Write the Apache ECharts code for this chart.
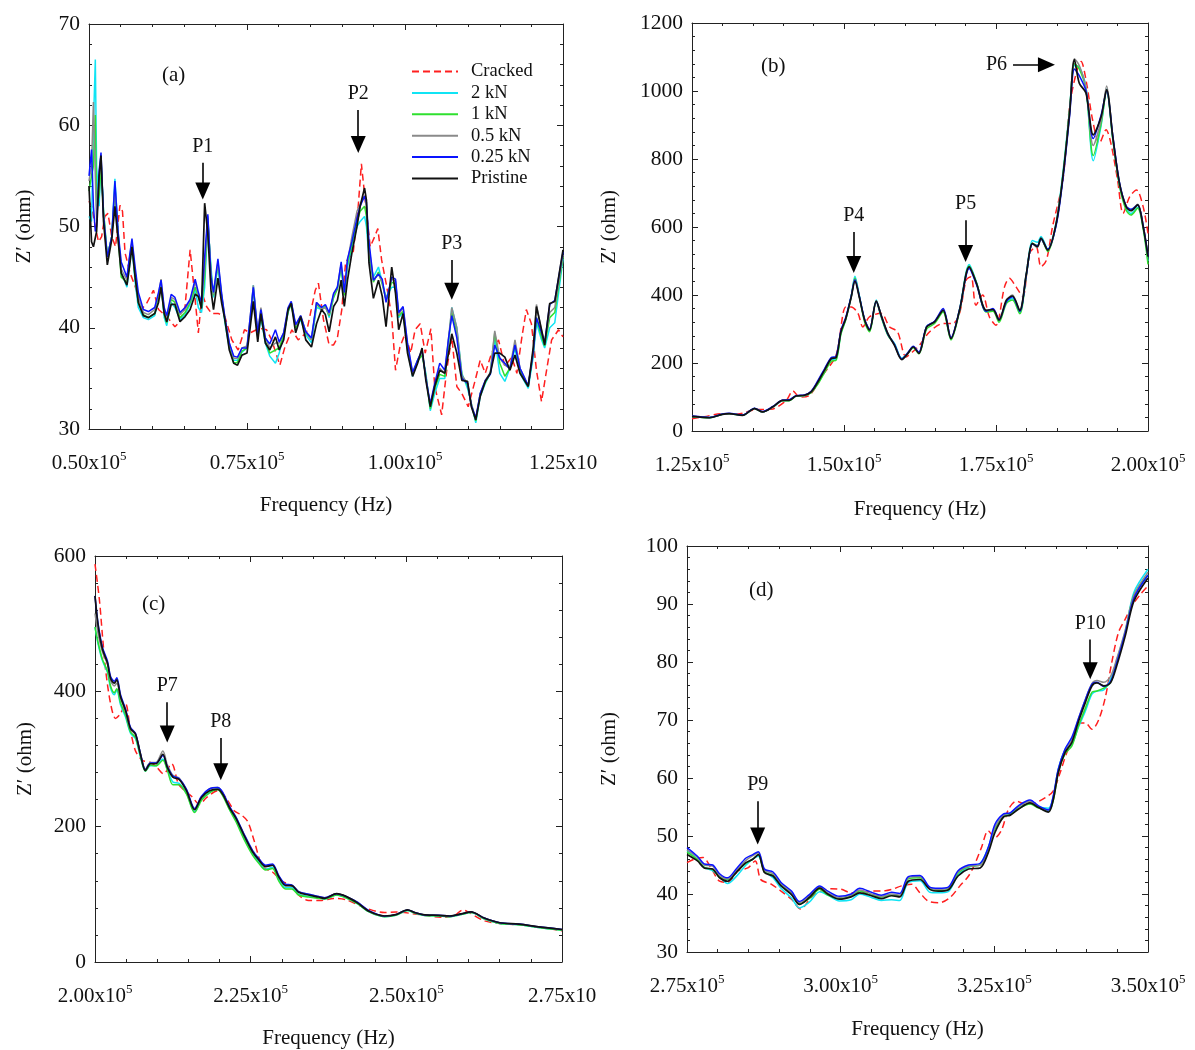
<!DOCTYPE html>
<html>
<head>
<meta charset="utf-8">
<script src="https://cdn.jsdelivr.net/npm/echarts@6/dist/echarts.min.js"></script>
<style>
html,body{margin:0;padding:0;background:#fff;}
#chart{width:1195px;height:1050px;}
</style>
</head>
<body>
<div id="chart"></div>
<script>
// ---------------- DATA (frequency in kHz, Z' in ohm) ----------------
const seriesNames = ['Cracked', '2 kN', '1 kN', '0.5 kN', '0.25 kN', 'Pristine'];

// Panel (a)
const fA = [
  50.0, 50.4, 50.7, 51.0, 51.2, 51.6, 51.9, 52.3, 52.9, 53.6,
  54.1, 54.6, 55.1, 56.0, 56.4, 56.8, 57.3, 57.8, 58.6, 59.4,
  60.4, 61.0, 61.4, 61.9, 62.3, 63.0, 63.6, 64.4, 65.2, 66.0,
  66.8, 67.3, 67.8, 68.3, 68.8, 69.3, 69.7, 70.4, 71.0, 71.5,
  72.2, 72.9, 73.5, 74.2, 75.0, 75.5, 76.0, 76.7, 77.2, 77.9,
  78.6, 79.5, 80.1, 80.8, 81.5, 82.0, 82.7, 83.5, 84.3, 85.2,
  86.0, 86.8, 87.4, 88.0, 88.7, 89.3, 89.9, 90.4, 90.9, 91.6,
  92.4, 92.9, 93.6, 93.9, 94.3, 95.0, 95.8, 96.4, 97.0, 97.9,
  98.5, 99.0, 99.7, 100.4, 101.2, 102.0, 102.7, 103.3, 104.0, 104.7,
  105.5, 106.3, 106.9, 107.4, 108.2, 109.0, 109.9, 110.5, 111.2, 111.9,
  112.7, 113.5, 114.2, 115.0, 115.8, 116.6, 117.4, 118.2, 119.5, 120.3,
  120.8, 121.5, 122.1, 122.9, 123.7, 125.0];
const pristineA = [
  54.0, 48.5, 48.0, 48.0, 49.5, 55.0, 57.0, 50.5, 46.2, 48.7,
  52.0, 48.7, 45.4, 44.2, 46.0, 48.0, 45.0, 42.5, 41.2, 41.0,
  41.4, 42.5, 44.0, 41.4, 40.6, 42.3, 42.3, 40.6, 41.1, 41.8,
  43.3, 43.1, 41.9, 52.3, 49.3, 43.7, 41.8, 44.9, 42.4, 40.8,
  37.8, 36.5, 36.3, 37.3, 37.5, 40.0, 42.6, 38.6, 41.4, 38.5,
  37.8, 39.1, 37.8, 38.8, 41.8, 42.4, 39.5, 41.1, 38.8, 38.1,
  40.4, 41.8, 41.3, 39.6, 42.1, 42.7, 44.7, 42.1, 44.7, 47.4,
  50.0, 52.0, 53.8, 52.6, 46.4, 42.9, 44.7, 43.1, 40.1, 46.0,
  43.4, 39.8, 41.4, 37.5, 35.2, 36.5, 38.0, 34.8, 32.2, 34.2,
  35.8, 35.5, 37.5, 39.4, 37.5, 34.8, 34.7, 32.2, 30.9, 33.2,
  34.7, 35.5, 37.5, 37.5, 37.1, 35.8, 37.3, 35.5, 34.2, 38.1,
  42.1, 40.1, 38.3, 42.4, 42.6, 47.7];
const kN025A = [
  55.0, 57.6, 52.0, 49.5, 50.0, 55.5, 57.3, 51.0, 47.0, 49.0,
  54.5, 49.5, 46.5, 45.0, 47.0, 48.8, 46.0, 43.5, 41.8, 41.6,
  42.0, 43.5, 44.7, 42.0, 41.2, 43.3, 43.0, 41.5, 42.0, 42.8,
  44.8, 43.5, 42.5, 47.0, 51.2, 45.0, 43.5, 46.8, 43.3, 41.0,
  38.5, 37.2, 37.1, 38.0, 38.0, 41.0, 44.0, 39.5, 41.8, 39.0,
  38.4, 39.8, 38.6, 39.5, 42.0, 42.6, 40.3, 41.2, 39.6, 39.0,
  42.5, 42.0, 42.3, 41.5, 43.4, 44.0, 46.5, 43.5, 46.8, 48.5,
  50.8, 52.0, 53.0, 52.4, 48.5, 44.7, 45.3, 44.8, 42.5, 45.0,
  44.8, 41.5, 42.1, 38.5, 35.6, 36.8, 37.8, 35.0, 32.5, 34.5,
  36.5, 35.8, 39.0, 41.2, 39.0, 35.0, 34.5, 32.3, 31.1, 33.5,
  34.8, 35.4, 38.3, 37.0, 36.5, 35.9, 38.3, 36.0, 34.3, 37.6,
  41.0, 39.7, 38.5, 42.3, 42.7, 47.5];
const kN2A = [
  51.0, 50.5, 60.0, 66.5, 56.0, 52.0, 56.5, 51.5, 47.0, 49.0,
  54.7, 49.5, 45.5, 44.0, 46.0, 48.0, 44.5, 42.0, 41.0, 40.8,
  41.2, 42.8, 44.3, 41.0, 40.2, 42.5, 42.0, 40.8, 41.3, 42.3,
  43.8, 42.0, 41.5, 44.0, 50.5, 46.0, 43.0, 46.0, 43.0, 40.5,
  38.0, 36.8, 36.8, 37.6, 38.0, 40.5, 44.2, 39.0, 41.0, 38.5,
  37.2, 36.5, 37.5, 39.3, 41.5, 42.5, 40.0, 40.8, 39.3, 38.5,
  42.0, 41.8, 42.2, 41.0, 43.0, 44.0, 45.8, 43.5, 46.0, 48.0,
  50.0, 50.5, 51.0, 50.0, 47.0, 45.0, 46.0, 44.5, 43.0, 44.0,
  44.0, 41.0, 41.5, 37.8, 35.2, 36.8, 37.5, 35.5, 31.8, 33.5,
  35.0, 35.0, 38.5, 42.0, 40.0, 35.5, 34.0, 32.5, 30.6, 33.2,
  34.5, 35.5, 39.0, 35.5, 34.7, 36.0, 38.0, 35.5, 34.0, 37.2,
  40.5, 39.0, 38.0, 40.0, 40.5, 46.8];
const kN1A = [
  53.5, 55.0, 56.0, 61.0, 52.0, 53.0, 56.0, 51.5, 47.0, 49.0,
  53.5, 49.0, 45.0, 44.5, 46.5, 48.3, 45.0, 42.5, 41.3, 41.0,
  41.4, 43.0, 44.2, 41.3, 40.5, 42.8, 42.5, 41.0, 41.5, 42.5,
  44.0, 43.0, 42.0, 45.0, 50.8, 45.5, 43.2, 46.3, 43.0, 40.8,
  38.2, 36.5, 36.6, 37.7, 38.0, 40.6, 43.8, 39.2, 41.3, 38.7,
  37.5, 37.8, 38.0, 39.3, 41.6, 42.3, 40.0, 41.0, 39.5, 38.8,
  42.3, 41.8, 42.1, 41.2, 43.0, 43.8, 46.0, 43.2, 46.3, 48.3,
  50.5, 51.5, 52.0, 51.0, 47.5, 44.5, 45.5, 44.3, 42.8, 44.5,
  44.3, 41.2, 41.6, 38.0, 35.4, 36.7, 37.3, 35.3, 32.0, 34.0,
  35.4, 35.2, 38.8, 41.5, 39.5, 35.3, 34.3, 32.4, 30.8, 33.5,
  34.6, 35.5, 39.5, 36.5, 35.2, 36.0, 38.3, 35.8, 34.2, 37.5,
  41.0, 39.3, 38.2, 41.0, 41.5, 47.0];
const kN05A = [
  54.5, 56.0, 62.3, 55.0, 50.5, 54.5, 56.8, 51.0, 47.0, 49.0,
  54.0, 49.2, 45.8, 44.7, 46.8, 48.5, 45.5, 43.0, 41.5, 41.3,
  41.8, 43.3, 44.8, 41.7, 41.0, 43.0, 42.8, 41.3, 41.8, 42.7,
  44.5, 43.3, 42.3, 46.0, 51.0, 45.3, 43.3, 46.5, 43.2, 41.0,
  38.5, 37.0, 37.0, 38.0, 38.2, 41.0, 44.2, 39.5, 42.0, 39.0,
  38.0, 38.5, 38.5, 39.5, 41.8, 42.5, 40.2, 41.2, 39.6, 38.8,
  42.5, 41.8, 42.0, 41.3, 43.3, 44.0, 46.3, 43.5, 46.5, 49.0,
  51.5, 52.2, 53.0, 52.0, 48.0, 44.7, 45.3, 44.5, 42.7, 44.8,
  44.6, 41.3, 42.0, 38.3, 35.5, 36.8, 37.6, 35.2, 32.3, 34.3,
  36.0, 35.5, 39.0, 42.0, 40.0, 35.3, 34.5, 32.5, 31.0, 33.5,
  34.8, 35.6, 39.7, 37.0, 36.3, 36.0, 38.8, 36.0, 34.3, 37.8,
  42.3, 40.0, 38.5, 41.5, 42.0, 47.2];
const fCrackedA = [
  50.0, 50.4, 51.0, 51.5, 52.0, 52.5, 53.0, 53.6, 54.2, 54.9,
  55.3, 55.7, 56.5, 57.3, 58.3, 59.2, 60.2, 61.0, 62.3, 63.6,
  64.4, 65.2, 66.0, 66.7, 67.3, 67.9, 68.6, 69.4, 70.5, 71.5,
  72.6, 73.6, 74.6, 75.5, 76.5, 77.3, 78.1, 78.9, 80.2, 81.0,
  82.1, 83.1, 84.4, 85.8, 86.3, 87.1, 88.0, 88.7, 89.3, 90.0,
  90.6, 91.8, 92.6, 93.1, 93.8, 94.5, 95.2, 95.7, 96.3, 97.1,
  97.9, 98.5, 99.2, 100.0, 100.9, 101.6, 102.4, 103.2, 104.1, 104.7,
  105.8, 106.6, 107.4, 108.2, 109.0, 110.0, 111.1, 111.9, 112.7, 113.7,
  114.8, 115.8, 116.9, 117.7, 118.5, 119.2, 120.0, 120.8, 121.6, 122.4,
  123.2, 124.3, 125.0];
const crackedA = [
  52.5, 52.0, 50.0, 48.5, 49.0, 51.0, 51.3, 49.0, 48.0, 52.1,
  51.5, 47.4, 45.4, 44.1, 41.8, 42.5, 43.7, 41.8, 41.1, 40.1,
  40.6, 42.1, 47.7, 43.4, 39.5, 43.4, 42.1, 41.4, 41.4, 41.1,
  38.8, 37.8, 39.8, 39.5, 39.8, 39.9, 39.8, 38.8, 36.3, 38.1,
  39.8, 38.8, 39.5, 43.7, 44.4, 40.8, 38.3, 38.3, 39.0, 41.8,
  46.5, 47.4, 52.0, 56.2, 52.0, 48.0, 49.0, 49.8, 46.7, 44.1,
  41.1, 35.8, 38.1, 39.4, 37.5, 39.8, 40.4, 37.5, 39.9, 34.2,
  31.4, 35.8, 39.1, 34.2, 33.5, 32.2, 34.8, 36.8, 35.5, 37.5,
  38.8, 36.2, 37.1, 35.5, 39.1, 41.8, 40.4, 35.8, 32.7, 35.8,
  38.8, 39.8, 39.1];

// Panel (b)
const fB = [
  125.0, 127.9, 130.0, 131.1, 133.3, 135.3, 136.6, 138.3, 139.9, 141.0,
  142.1, 143.5, 144.6, 145.7, 146.8, 147.9, 148.7, 149.5, 150.3, 151.2,
  151.8, 152.5, 153.4, 154.2, 155.3, 156.1, 157.2, 158.3, 159.5, 160.5,
  161.4, 162.3, 163.6, 164.9, 166.3, 167.6, 169.0, 170.6, 171.8, 173.4,
  174.5, 175.5, 176.7, 177.7, 178.9, 180.0, 181.0, 181.8, 182.4, 183.5,
  184.9, 186.0, 187.1, 187.9, 188.7, 189.8, 191.0, 192.3, 193.2, 194.2,
  195.3, 196.4, 197.2, 198.3, 199.2, 200.0];
const pristineB = [
  43, 39, 49, 51, 46, 66, 56, 71, 90, 90,
  103, 105, 115, 144, 179, 213, 216, 292, 331, 395,
  441, 395, 326, 297, 382, 341, 287, 252, 210, 228,
  247, 228, 306, 321, 355, 272, 355, 483, 434, 355,
  357, 326, 385, 397, 355, 464, 552, 542, 567, 532,
  611, 748, 935, 1092, 1023, 994, 871, 925, 1004, 866,
  729, 660, 648, 665, 601, 513];
const kN025B = [
  44, 40, 50, 52, 47, 67, 57, 72, 91, 92,
  104, 106, 117, 148, 183, 216, 220, 296, 335, 398,
  445, 398, 328, 300, 380, 340, 285, 255, 212, 230,
  249, 232, 308, 323, 360, 275, 356, 478, 430, 352,
  360, 328, 380, 395, 352, 460, 550, 545, 565, 535,
  605, 740, 925, 1065, 1045, 1000, 860, 930, 1000, 870,
  732, 662, 652, 665, 605, 515];
const kN2B = [
  43, 40, 49, 51, 46, 66, 56, 71, 89, 90,
  103, 104, 114, 140, 174, 210, 212, 288, 330, 398,
  455, 400, 325, 295, 385, 338, 284, 258, 214, 230,
  248, 229, 308, 320, 353, 270, 358, 490, 437, 352,
  356, 324, 378, 390, 350, 465, 560, 555, 572, 535,
  615, 760, 945, 1075, 1070, 1010, 795, 900, 1005, 860,
  725, 655, 640, 658, 600, 500];
const kN1B = [
  43, 39, 49, 51, 46, 66, 56, 70, 89, 89,
  102, 104, 113, 138, 172, 205, 208, 285, 328, 396,
  450, 398, 320, 292, 380, 336, 282, 255, 212, 228,
  245, 227, 300, 316, 350, 268, 352, 485, 435, 350,
  352, 320, 375, 385, 345, 458, 552, 545, 565, 528,
  608, 752, 940, 1080, 1065, 1005, 810, 905, 1000, 860,
  722, 650, 635, 655, 595, 490];
const kN05B = [
  44, 40, 49, 51, 46, 66, 56, 71, 90, 91,
  103, 105, 116, 145, 180, 214, 218, 293, 332, 396,
  446, 396, 327, 298, 383, 342, 288, 253, 211, 229,
  248, 230, 307, 322, 357, 273, 356, 482, 434, 355,
  358, 327, 383, 400, 356, 463, 550, 540, 565, 532,
  610, 748, 933, 1095, 1075, 1010, 840, 915, 1015, 868,
  730, 662, 650, 667, 605, 515];
const fCrackedB = [
  125, 127, 130, 132.5, 135.5, 138, 140.5, 141.6, 142.7, 144.3,
  146.5, 148.7, 150.3, 151.2, 152.3, 153.1, 154.2, 156.1, 157.5, 158.8,
  160.2, 161.3, 162.4, 164.1, 166.3, 167.9, 169.0, 170.1, 170.9, 171.7,
  172.8, 173.9, 175.0, 176.4, 177.2, 178.3, 179.4, 180.5, 181.6, 182.4,
  183.3, 184.3, 186.0, 187.1, 188.2, 189.0, 189.8, 190.9, 192.0, 193.1,
  193.9, 195.0, 195.9, 197.0, 198.1, 199.2, 200.0];
const crackedB = [
  36, 42, 51, 50, 63, 64, 90, 118, 100, 105,
  164, 223, 365, 365, 346, 306, 336, 346, 306, 292,
  218, 233, 252, 292, 316, 316, 346, 444, 454, 370,
  400, 336, 311, 424, 449, 424, 395, 522, 542, 483,
  503, 601, 738, 955, 1053, 1087, 1033, 914, 846, 886,
  846, 738, 640, 689, 709, 660, 581];

// Panel (c)
const fC = [
  200, 200.5, 201.2, 202.0, 202.5, 203.1, 203.5, 204.1, 204.9, 205.7,
  206.5, 207.3, 208.1, 208.9, 209.8, 210.9, 211.6, 212.5, 213.5, 214.7,
  216.0, 217.1, 218.4, 219.7, 220.5, 221.6, 222.6, 224.0, 225.3, 226.3,
  227.4, 228.5, 229.5, 230.6, 231.6, 232.7, 234.3, 235.9, 236.9, 238.8,
  240.3, 242.2, 244.0, 246.5, 248.3, 250.2, 251.4, 252.7, 255.1, 257.0,
  258.8, 260.4, 262.5, 265.0, 268.1, 271.2, 275.0];
const pristineC = [
  541, 497, 462, 442, 419, 412, 417, 392, 372, 345,
  337, 307, 283, 293, 293, 307, 288, 273, 270, 253,
  225, 243, 253, 255, 248, 228, 213, 186, 163, 151,
  141, 143, 126, 113, 113, 103, 99, 96, 94, 101,
  97, 87, 75, 68, 70, 77, 73, 70, 69, 68,
  71, 74, 65, 58, 56, 52, 48];
const kN025C = [
  541, 500, 465, 445, 422, 415, 420, 395, 374, 347,
  338, 308, 284, 294, 294, 305, 289, 275, 271, 255,
  227, 245, 256, 258, 251, 230, 215, 188, 165, 153,
  143, 145, 128, 115, 114, 104, 100, 97, 95, 101,
  97, 88, 76, 68, 70, 77, 73, 70, 69, 68,
  71, 74, 65, 58, 56, 52, 48];
const kN2C = [
  495, 470, 445, 428, 405, 395, 402, 380, 362, 338,
  330, 303, 282, 290, 290, 300, 285, 266, 264, 249,
  222, 240, 251, 256, 248, 226, 210, 182, 160, 148,
  137, 140, 122, 110, 110, 100, 97, 95, 93, 99,
  95, 86, 74, 67, 69, 76, 72, 69, 68, 67,
  70, 73, 64, 57, 55, 51, 47];
const kN1C = [
  495, 472, 447, 430, 408, 398, 404, 383, 365, 340,
  332, 304, 282, 291, 290, 298, 284, 262, 262, 248,
  221, 239, 250, 255, 246, 225, 208, 180, 158, 146,
  136, 138, 120, 108, 108, 99, 96, 94, 93, 99,
  95, 86, 74, 67, 69, 76, 72, 69, 68, 67,
  70, 73, 64, 57, 55, 51, 47];
const kN05C = [
  515, 485, 458, 440, 416, 408, 412, 390, 370, 344,
  336, 308, 285, 295, 295, 312, 292, 276, 272, 254,
  226, 244, 256, 258, 250, 229, 214, 187, 163, 152,
  142, 143, 127, 114, 113, 104, 100, 97, 95, 101,
  97, 88, 75, 68, 70, 77, 73, 70, 69, 68,
  71, 74, 65, 58, 56, 52, 48];
const fCrackedC = [
  200, 200.7, 201.2, 201.7, 202.5, 203.3, 204.1, 204.9, 205.7, 206.5,
  207.6, 208.9, 209.9, 211.0, 212.3, 213.4, 214.4, 215.5, 216.8, 217.9,
  219.7, 221.0, 222.4, 223.4, 224.5, 225.6, 226.9, 228.5, 230.1, 231.4,
  232.7, 234.3, 236.4, 238.3, 240.3, 243.4, 246.5, 248.3, 251.4, 255.7,
  257.6, 259.1, 260.1, 262.5, 265.0, 268.1, 271.2, 275.0];
const crackedC = [
  588, 536, 482, 432, 382, 360, 367, 382, 342, 312,
  298, 295, 288, 278, 293, 263, 253, 245, 233, 243,
  253, 243, 223, 218, 208, 178, 141, 133, 119, 114,
  99, 91, 91, 94, 92, 80, 73, 74, 71, 66,
  68, 77, 73, 61, 57, 55, 52, 46];

// Panel (d)
const fD = [
  275.0, 276.7, 277.8, 279.2, 280.3, 281.6, 283.0, 284.6, 285.7, 286.6,
  287.6, 289.0, 290.3, 292.0, 293.3, 294.9, 296.6, 297.9, 299.8, 301.7,
  303.1, 305.0, 306.6, 308.3, 309.6, 311.0, 312.9, 314.5, 315.9, 317.5,
  319.1, 320.8, 322.7, 324.0, 325.1, 326.5, 327.6, 328.9, 330.8, 332.2,
  333.8, 334.6, 335.4, 336.5, 337.6, 338.7, 339.8, 340.9, 341.7, 342.8,
  343.9, 344.9, 346.3, 347.7, 350.0];
const pristineD = [
  46.8, 45.7, 44.5, 44.3, 42.8, 42.2, 43.7, 45.4, 46.0, 46.8,
  43.7, 43.1, 41.4, 39.9, 38.2, 39.4, 41.0, 40.0, 39.1, 39.5,
  40.2, 39.7, 39.2, 39.7, 39.5, 42.2, 42.5, 40.8, 40.5, 40.7,
  43.1, 44.3, 44.5, 47.1, 50.6, 53.3, 53.6, 54.6, 55.7, 54.9,
  54.1, 56.3, 60.9, 64.4, 66.1, 69.8, 73.0, 75.9, 76.4, 75.9,
  76.4, 79.3, 84.5, 90.5, 94.5];
const kN025D = [
  48.0, 46.5, 45.2, 45.0, 43.5, 42.8, 44.3, 46.2, 46.8, 47.3,
  44.3, 43.8, 42.0, 40.5, 38.7, 39.9, 41.4, 40.5, 39.6, 40.0,
  41.0, 40.3, 39.8, 40.3, 40.1, 43.0, 43.2, 41.2, 41.0, 41.2,
  44.0, 45.0, 45.3, 48.0, 52.0, 53.8, 54.0, 55.2, 56.2, 55.2,
  54.5, 57.0, 61.5, 65.0, 67.0, 70.3, 73.5, 76.2, 76.5, 75.8,
  76.6, 79.8, 85.0, 91.0, 95.0];
const kN2D = [
  47.5, 46.0, 44.6, 44.0, 43.0, 41.8, 43.0, 45.0, 46.0, 46.5,
  44.0, 42.8, 41.0, 39.3, 37.6, 38.6, 40.4, 39.8, 38.8, 39.0,
  40.0, 39.4, 38.9, 39.0, 38.9, 42.0, 42.3, 40.3, 40.2, 40.4,
  43.3, 44.6, 45.2, 48.0, 51.5, 53.5, 53.9, 54.8, 55.6, 55.0,
  54.8, 56.8, 61.5, 64.8, 65.8, 68.8, 71.5, 74.5, 75.0, 75.2,
  77.0, 80.3, 85.3, 92.0, 96.0];
const kN1D = [
  47.2, 45.9, 44.6, 44.2, 42.9, 42.5, 43.8, 45.3, 46.0, 46.8,
  43.8, 43.2, 41.6, 40.0, 38.3, 39.2, 40.8, 39.8, 39.2, 39.6,
  40.5, 39.8, 39.5, 39.8, 39.6, 42.6, 42.8, 40.9, 40.6, 40.8,
  43.6, 44.7, 45.0, 47.6, 51.2, 53.3, 53.7, 54.7, 55.5, 54.8,
  54.3, 56.2, 61.0, 64.2, 65.5, 69.0, 72.0, 74.8, 75.0, 75.5,
  76.5, 79.8, 85.0, 91.5, 95.0];
const kN05D = [
  47.6, 46.3, 45.0, 44.8, 43.2, 42.6, 44.0, 45.8, 46.6, 47.1,
  44.1, 43.5, 41.8, 40.2, 38.5, 39.7, 41.2, 40.2, 39.4, 39.8,
  40.7, 40.0, 39.6, 40.0, 39.8, 42.8, 43.0, 41.0, 40.8, 41.0,
  43.8, 44.8, 45.0, 47.8, 51.5, 53.6, 54.0, 55.0, 56.0, 55.0,
  54.5, 56.8, 61.3, 64.8, 66.5, 70.2, 73.5, 76.3, 76.8, 76.5,
  77.5, 80.5, 85.5, 91.5, 95.5];
const fCrackedD = [
  275.0, 276.2, 277.6, 278.9, 280.3, 281.6, 283.3, 284.9, 286.1, 287.0,
  288.7, 290.3, 292.0, 293.5, 295.2, 296.8, 298.5, 300.1, 301.7, 303.4,
  305.0, 306.6, 308.3, 309.9, 311.5, 312.9, 314.2, 316.1, 317.8, 319.4,
  320.8, 321.8, 322.9, 324.0, 325.1, 326.2, 327.3, 328.6, 330.0, 331.6,
  333.3, 334.6, 335.7, 336.8, 337.9, 339.0, 339.8, 340.9, 342.0, 343.1,
  344.1, 345.2, 346.3, 347.4, 348.8, 350.0];
const crackedD = [
  45.4, 46.0, 46.3, 44.5, 42.2, 42.0, 44.0, 44.5, 45.7, 42.5,
  41.7, 40.5, 39.1, 37.4, 39.4, 40.5, 40.9, 40.8, 40.2, 40.2,
  40.5, 40.5, 40.8, 41.4, 41.7, 40.2, 38.8, 38.5, 39.4, 41.4,
  43.1, 45.1, 48.0, 50.9, 49.7, 51.1, 54.6, 56.0, 55.5, 55.7,
  56.6, 57.8, 60.9, 64.4, 66.7, 69.5, 69.5, 68.4, 70.1, 74.1,
  79.9, 85.1, 87.4, 89.7, 91.7, 93.1];

// Peak annotations (arrow start / arrow-head centre in data coordinates)
const peakLabels = [
  {panel: 0, name: 'P1', from: [68.0, 56.3], to: [68.0, 53.5]},
  {panel: 0, name: 'P2', from: [92.6, 61.5], to: [92.6, 58.1]},
  {panel: 0, name: 'P3', from: [107.4, 46.7], to: [107.4, 43.6]},
  {panel: 1, name: 'P4', from: [151.6, 585], to: [151.6, 490]},
  {panel: 1, name: 'P5', from: [170.0, 620], to: [170.0, 522]},
  {panel: 1, name: 'P6', from: [177.8, 1077], to: [183.3, 1077]},
  {panel: 2, name: 'P7', from: [211.6, 384], to: [211.6, 337]},
  {panel: 2, name: 'P8', from: [220.2, 331], to: [220.2, 281]},
  {panel: 3, name: 'P9', from: [286.5, 56.0], to: [286.5, 50.0]},
  {panel: 3, name: 'P10', from: [340.6, 83.9], to: [340.6, 78.5]}
];
const panelTags = ['(a)', '(b)', '(c)', '(d)'];

// ---------------- CHART ----------------
const FONT = '"Liberation Serif", "DejaVu Serif", "Times New Roman", serif';
const pairs = (xs, ys) => ys.map((y, i) => [xs[i], y]);
const colors = {
  'Cracked': '#ff1f1f', '2 kN': '#10e4f4', '1 kN': '#2fe02f',
  '0.5 kN': '#8a8a8a', '0.25 kN': '#0a14ff', 'Pristine': '#111111'
};

const panels = [
  {grid: {left: 89, top: 24, width: 474, height: 405}, x: [50, 125], y: [30, 70, 10],
   f: fA, fc: fCrackedA, cr: crackedA, s2: kN2A, s1: kN1A, s05: kN05A, s025: kN025A, pr: pristineA,
   smooth: false, cut: true, yGap: 54, xGap: 66, tag: [157, 60]},
  {grid: {left: 692, top: 23, width: 456, height: 408}, x: [125, 200], y: [0, 1200, 200],
   f: fB, fc: fCrackedB, cr: crackedB, s2: kN2B, s1: kN1B, s05: kN05B, s025: kN025B, pr: pristineB,
   smooth: 0.3, cut: false, yGap: 72, xGap: 68, tag: [756, 51]},
  {grid: {left: 95, top: 556, width: 467, height: 406}, x: [200, 275], y: [0, 600, 200],
   f: fC, fc: fCrackedC, cr: crackedC, s2: kN2C, s1: kN1C, s05: kN05C, s025: kN025C, pr: pristineC,
   smooth: 0.3, cut: true, yGap: 59, xGap: 66, tag: [137, 589]},
  {grid: {left: 687, top: 546, width: 461, height: 406}, x: [275, 350], y: [30, 100, 10],
   f: fD, fc: fCrackedD, cr: crackedD, s2: kN2D, s1: kN1D, s05: kN05D, s025: kN025D, pr: pristineD,
   smooth: 0.3, cut: false, yGap: 67, xGap: 67, tag: [744, 575]}
];

const axisColor = '#222';
const grids = [], xAxes = [], yAxes = [], series = [], titles = [];

panels.forEach((p, i) => {
  grids.push(Object.assign({containLabel: false}, p.grid));
  const common = {
    type: 'value', gridIndex: i, splitLine: {show: false},
    axisLine: {show: true, onZero: false, lineStyle: {color: axisColor, width: 1}},
    axisTick: {show: true, inside: true, length: 6, lineStyle: {color: axisColor, width: 1}},
    minorTick: {show: true, splitNumber: 5, length: 3, lineStyle: {color: axisColor, width: 1}},
    minorSplitLine: {show: false}
  };
  xAxes.push(Object.assign({}, common, {
    min: p.x[0], max: p.x[1], interval: 25, position: 'bottom',
    name: 'Frequency (Hz)', nameLocation: 'middle', nameGap: p.xGap,
    nameTextStyle: {fontFamily: FONT, fontSize: 21, color: '#111'},
    axisLabel: {
      margin: 21, showMinLabel: true, showMaxLabel: true,
      formatter: (v) => {
        const m = (v / 100).toFixed(2) + 'x10';
        if (p.cut && v === p.x[1]) return '{m|' + m + '}';
        return '{m|' + m + '}{s|5}';
      },
      rich: {
        m: {fontFamily: FONT, fontSize: 21, color: '#111', lineHeight: 24, verticalAlign: 'bottom'},
        s: {fontFamily: FONT, fontSize: 13, color: '#111', lineHeight: 13, verticalAlign: 'top'}
      }
    }
  }));
  xAxes.push(Object.assign({}, common, {
    min: p.x[0], max: p.x[1], interval: 25, position: 'top', axisLabel: {show: false}
  }));
  yAxes.push(Object.assign({}, common, {
    min: p.y[0], max: p.y[1], interval: p.y[2], position: 'left',
    name: 'Z\u2032 (ohm)', nameLocation: 'middle', nameGap: p.yGap, nameRotate: 90,
    nameTextStyle: {fontFamily: FONT, fontSize: 21, color: '#111'},
    axisLabel: {margin: 9, fontFamily: FONT, fontSize: 21.5, color: '#111', formatter: (v) => String(v)}
  }));
  yAxes.push(Object.assign({}, common, {
    min: p.y[0], max: p.y[1], interval: p.y[2], position: 'right', axisLabel: {show: false}
  }));

  const mk = (name, data, extra) => Object.assign({
    name, type: 'line', xAxisIndex: 2 * i, yAxisIndex: 2 * i, data,
    showSymbol: false, symbol: 'none', smooth: p.smooth, animation: false,
    lineStyle: {color: colors[name], width: 1.5}, itemStyle: {color: colors[name]}
  }, extra || {});

  series.push(mk('Cracked', pairs(p.fc, p.cr), {lineStyle: {color: colors['Cracked'], width: 1.5, type: [7, 4]}}));
  series.push(mk('2 kN', pairs(p.f, p.s2)));
  series.push(mk('1 kN', pairs(p.f, p.s1)));
  series.push(mk('0.5 kN', pairs(p.f, p.s05)));
  series.push(mk('0.25 kN', pairs(p.f, p.s025)));

  const arrows = peakLabels.filter(a => a.panel === i).map(a => [
    {coord: a.from, label: {formatter: a.name}},
    {coord: a.to}
  ]);
  series.push(mk('Pristine', pairs(p.f, p.pr), {
    lineStyle: {color: colors['Pristine'], width: 1.7},
    markLine: {
      silent: true, animation: false,
      symbol: ['none', 'triangle'], symbolSize: [15, 17],
      lineStyle: {color: '#000', width: 1.6, type: 'solid'},
      label: {show: true, position: 'start', distance: 6, fontFamily: FONT, fontSize: 20, color: '#111'},
      emphasis: {disabled: true},
      data: arrows
    }
  }));

  titles.push({
    text: panelTags[i], left: p.tag[0], top: p.tag[1],
    textStyle: {fontFamily: FONT, fontSize: 21, fontWeight: 'normal', color: '#111'}
  });
});

const chart = echarts.init(document.getElementById('chart'), null, {renderer: 'canvas'});
chart.setOption({
  backgroundColor: '#ffffff',
  animation: false,
  title: titles,
  legend: {
    data: seriesNames, orient: 'vertical', left: 406, top: 57,
    itemWidth: 46, itemHeight: 12, itemGap: 2.4,
    itemStyle: {opacity: 0},
    textStyle: {fontFamily: FONT, fontSize: 18.5, lineHeight: 18, color: '#111', padding: [0, 0, 0, 8]},
    selectedMode: false
  },
  grid: grids,
  xAxis: xAxes,
  yAxis: yAxes,
  series: series
});
</script>
</body>
</html>
